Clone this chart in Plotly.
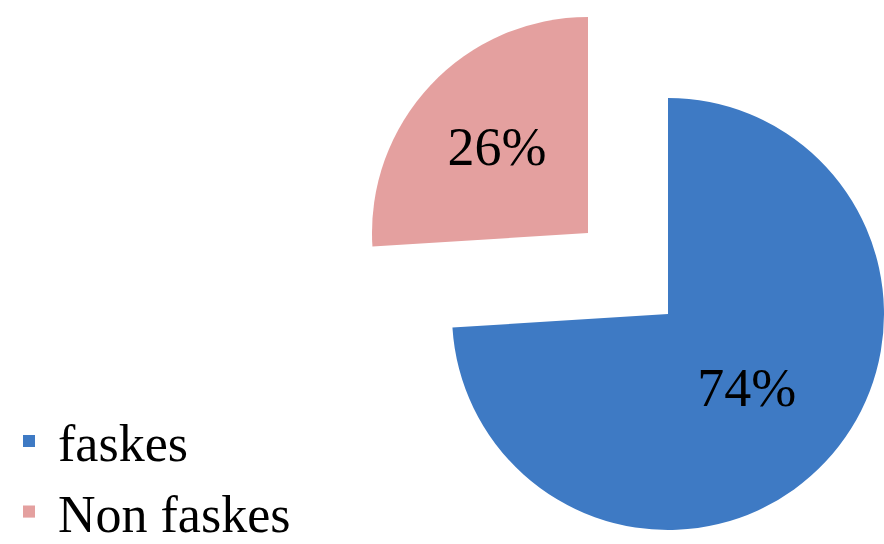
import plotly.graph_objects as go

labels = ["faskes", "Non faskes"]
values = [74, 26]
colors = ["#3E7AC4", "#E4A09F"]

FONT = "Liberation Serif"
W, H = 884, 544

def dom(cx, cy, r):
    return dict(x=[(cx - r) / W, (cx + r) / W], y=[(H - (cy + r)) / H, (H - (cy - r)) / H])

fig = go.Figure()

# legend-only trace (zero-size domain)
fig.add_trace(go.Pie(
    labels=labels, values=values, sort=False, direction="clockwise",
    marker=dict(colors=colors), textinfo="none", hoverinfo="skip",
    domain=dict(x=[0, 0.0001], y=[0, 0.0001]), showlegend=True,
))

# main body: faskes
fig.add_trace(go.Pie(
    labels=labels, values=values, sort=False, direction="clockwise",
    marker=dict(colors=[colors[0], "rgba(0,0,0,0)"]),
    texttemplate=["%{percent:.0%}", ""], textposition="inside",
    insidetextorientation="horizontal",
    insidetextfont=dict(family=FONT, size=54, color="black"),
    domain=dom(668, 314, 216), showlegend=False,
))

# exploded slice: Non faskes
fig.add_trace(go.Pie(
    labels=labels, values=values, sort=False, direction="clockwise",
    marker=dict(colors=["rgba(0,0,0,0)", colors[1]]),
    texttemplate=["", "%{percent:.0%}"], textposition="inside",
    insidetextorientation="horizontal",
    insidetextfont=dict(family=FONT, size=54, color="black"),
    domain=dom(588, 233, 216), showlegend=False,
))

fig.update_layout(
    width=W, height=H,
    margin=dict(l=0, r=0, t=0, b=0, autoexpand=False),
    paper_bgcolor="white", plot_bgcolor="white",
    legend=dict(
        x=0, y=-0.016, xanchor="left", yanchor="bottom",
        font=dict(family=FONT, size=52, color="black"),
        itemwidth=48, bgcolor="rgba(0,0,0,0)",
    ),
)

fig.write_html("out.html")
